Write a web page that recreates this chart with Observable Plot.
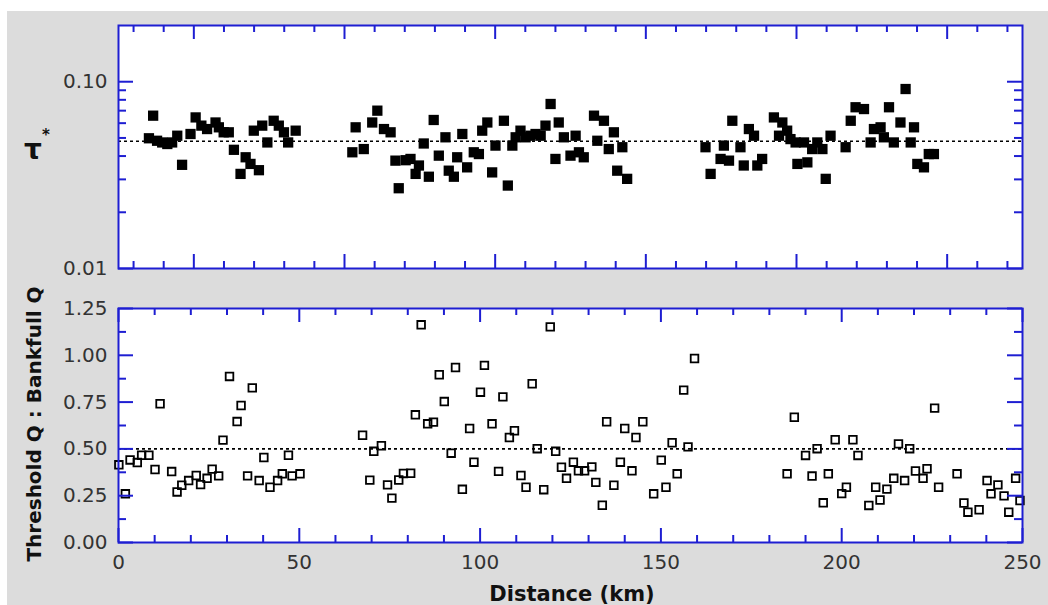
<!DOCTYPE html>
<html><head><meta charset="utf-8">
<script src="https://cdn.jsdelivr.net/npm/d3@7"></script>
<script src="https://cdn.jsdelivr.net/npm/@observablehq/plot@0.6"></script>
<style>
html,body{margin:0;padding:0;background:#fff;overflow:hidden;}
#wrap{position:relative;width:1048px;height:605px;}
#bg{position:absolute;left:7px;top:11px;right:0;bottom:0;background:#dcdcdc;}
#top,#bot{position:absolute;left:0;}
#top{top:0}
#bot{top:285px}
</style></head><body>
<div id="wrap"><div id="bg"></div><div id="top"></div><div id="bot"></div></div>
<script>
// ---------- data ----------
const tauDistance = [
 -14.9,-13.5,-12.2,-10.5,-8.8,-7.2,-5.5,-3.9,-1.1,0.6,2.5,4.4,7.2,8.3,9.9,11.6,13.3,15.5,17.2,18.8,21.6,19.9,22.7,24.4,26.5,28.2,29.9,31.3,33.8,
 52.6,53.7,56.4,59.2,60.9,63.1,65.3,66.9,68.0,70.3,71.9,73.6,74.7,76.3,78.0,79.6,81.3,83.5,84.6,86.3,87.4,89.1,90.7,92.9,94.6,95.7,97.4,99.0,100.1,102.9,104.2,105.7,106.8,108.4,110.1,111.7,113.4,115.1,116.7,118.4,120.0,121.1,122.8,125.0,126.7,127.8,129.4,132.8,133.9,136.1,137.7,139.4,140.5,142.2,143.8,
 169.8,171.5,174.8,175.9,177.6,178.7,181.4,182.5,184.2,185.9,187.0,188.6,192.5,194.2,195.3,196.9,198.0,199.7,200.3,202.5,203.6,205.2,206.9,208.6,209.7,211.3,216.3,218.0,219.6,222.4,224.6,225.7,227.9,229.0,230.7,232.3,234.5,236.2,237.9,239.0,240.1,242.3,243.9,245.6
];
const tauValue = [
 0.0498,0.0658,0.0483,0.0473,0.0464,0.0473,0.0514,0.0359,0.0525,0.0644,0.0582,0.0558,0.0605,0.057,0.0536,0.0536,0.0432,0.0321,0.0394,0.0363,0.0336,0.0547,0.0582,0.0473,0.0618,0.0582,0.0536,0.0473,0.0547,
 0.0419,0.057,0.0436,0.0605,0.070,0.0558,0.0536,0.0378,0.0269,0.038,0.0386,0.0321,0.0356,0.0467,0.031,0.0624,0.0402,0.0504,0.0334,0.031,0.0394,0.0525,0.0348,0.0419,0.041,0.0547,0.0605,0.0327,0.0455,0.0618,0.0278,0.0455,0.0504,0.0547,0.0504,0.0514,0.0525,0.0514,0.0582,0.076,0.0386,0.0605,0.0504,0.0402,0.0514,0.0419,0.0394,0.0658,0.0483,0.0618,0.0436,0.0536,0.0334,0.0446,0.0302,
 0.0446,0.0321,0.0386,0.0455,0.0378,0.0618,0.0446,0.0356,0.0558,0.0514,0.0356,0.0386,0.0644,0.0514,0.0605,0.0547,0.0493,0.0473,0.0363,0.0473,0.037,0.0436,0.0473,0.0436,0.0302,0.0514,0.0446,0.0618,0.073,0.0714,0.0473,0.0558,0.057,0.0504,0.073,0.0473,0.0605,0.0914,0.0473,0.057,0.0363,0.0348,0.041,0.041
];
const ratioDistance = [
 0.1,1.9,3.2,5.2,6.4,8.4,10.1,11.5,14.7,16.2,17.5,19.4,21.5,22.7,24.5,25.9,27.7,28.9,30.7,32.8,33.9,37.0,35.7,38.9,40.2,41.9,44.0,45.3,47.0,48.0,50.2,
 67.5,69.5,70.6,72.7,74.4,75.6,77.5,78.8,80.8,82.1,83.7,85.5,87.1,88.7,90.1,92.0,93.2,95.1,97.1,98.3,100.1,101.2,103.3,105.1,106.3,108.1,109.5,111.3,112.7,114.4,115.8,117.6,119.4,120.9,122.5,123.9,125.8,127.2,128.9,130.9,132.0,133.8,135.0,137.0,138.8,140.0,142.0,143.1,145.0,148.0,150.1,151.4,153.1,154.5,156.3,157.5,159.3,
 184.9,186.9,190.0,191.8,193.2,194.9,196.3,198.2,200.0,201.3,203.1,204.5,207.5,209.4,210.6,212.5,214.4,215.7,217.4,218.8,220.4,222.5,223.6,225.7,226.8,231.9,233.8,234.9,238.0,240.2,241.3,243.2,244.9,246.2,248.1,249.3
];
const ratioValue = [
 0.415,0.260,0.441,0.427,0.466,0.466,0.390,0.741,0.379,0.270,0.306,0.331,0.358,0.309,0.343,0.392,0.356,0.547,0.887,0.646,0.732,0.826,0.356,0.331,0.454,0.295,0.331,0.367,0.466,0.356,0.367,
 0.573,0.333,0.487,0.517,0.308,0.237,0.334,0.369,0.370,0.682,1.163,0.634,0.643,0.896,0.753,0.477,0.935,0.284,0.609,0.429,0.803,0.946,0.634,0.380,0.778,0.561,0.597,0.358,0.295,0.848,0.501,0.282,1.152,0.487,0.402,0.343,0.429,0.383,0.383,0.404,0.321,0.199,0.645,0.306,0.429,0.609,0.383,0.561,0.645,0.260,0.440,0.295,0.533,0.367,0.814,0.511,0.983,
 0.367,0.669,0.465,0.355,0.501,0.212,0.367,0.549,0.261,0.295,0.549,0.465,0.198,0.295,0.227,0.285,0.343,0.527,0.331,0.501,0.382,0.343,0.394,0.718,0.295,0.367,0.211,0.162,0.175,0.331,0.260,0.308,0.249,0.162,0.343,0.224
];
const tauReference = 0.048;
const ratioReference = 0.5;

const topXMajorTicks = [0,50,100,150,200,250];
const topXMinorTicks = [-20,-10,10,20,30,40,60,70,80,90,110,120,130,140,160,170,180,190,210,220,230,240,260,270];
const tauMajorTicks = [0.01,0.1];
const tauMinorTicks = [0.02,0.03,0.04,0.05,0.06,0.07,0.08,0.09];
const botXMajorTicks = [0,50,100,150,200,250];
const botXMinorTicks = [10,20,30,40,60,70,80,90,110,120,130,140,160,170,180,190,210,220,230,240];
const ratioMajorTicks = [0,0.25,0.5,0.75,1.0,1.25];
const ratioMinorTicks = [0.125,0.375,0.625,0.875,1.125];

const yTitleTop = "τ";
const yTitleBottom = "Threshold Q : Bankfull Q";
const xTitle = "Distance (km)";

// ---------- drawing ----------
const BLUE = "#1e1ed2";
const LABEL = "#333";
const FONT = "'DejaVu Sans', sans-serif";
const W = 1048 - 118 - 26;
const H1 = 285 - 25 - 17;
const H2 = 320 - 23 - 63;

const tauData = tauDistance.map((d, i) => ({distance: d, tau: tauValue[i]}));
const ratioData = ratioDistance.map((d, i) => ({distance: d, ratio: ratioValue[i]}));

function xTicks(ticks, len, H) {
  return [
    Plot.tickX(ticks, {x: d => d, stroke: BLUE, strokeWidth: 2, insetTop: H - len}),
    Plot.tickX(ticks, {x: d => d, stroke: BLUE, strokeWidth: 2, insetBottom: H - len})
  ];
}
function yTicks(ticks, len) {
  return [
    Plot.tickY(ticks, {y: d => d, stroke: BLUE, strokeWidth: 2, insetRight: W - len}),
    Plot.tickY(ticks, {y: d => d, stroke: BLUE, strokeWidth: 2, insetLeft: W - len})
  ];
}

const topPlot = Plot.plot({
  width: 1048, height: 285, marginTop: 25, marginBottom: 17, marginLeft: 118, marginRight: 26,
  style: {background: "transparent", fontFamily: FONT, fontSize: "20px", color: LABEL, overflow: "visible"},
  x: {domain: [-25, 275], axis: null},
  y: {type: "log", domain: [0.01, 0.2]},
  marks: [
    Plot.frame({fill: "white", stroke: null}),
    Plot.ruleY([tauReference], {stroke: "#000", strokeWidth: 1.6, strokeDasharray: "3,3"}),
    Plot.dot(tauData, {x: "distance", y: "tau", symbol: "square", r: 5.8, fill: "#000", stroke: null}),
    ...xTicks(topXMinorTicks, 7, H1),
    ...xTicks(topXMajorTicks, 14, H1),
    ...yTicks(tauMinorTicks, 8),
    ...yTicks(tauMajorTicks, 15),
    Plot.axisY({ticks: tauMajorTicks, tickSize: 0, tickPadding: 11, tickFormat: d3.format(".2f"), label: null}),
    Plot.frame({stroke: BLUE, strokeWidth: 2})
  ]
});
document.getElementById("top").appendChild(topPlot);

const botPlot = Plot.plot({
  width: 1048, height: 320, marginTop: 23, marginBottom: 63, marginLeft: 118, marginRight: 26,
  style: {background: "transparent", fontFamily: FONT, fontSize: "20px", color: LABEL, overflow: "visible"},
  x: {domain: [0, 250]},
  y: {domain: [0, 1.25]},
  marks: [
    Plot.frame({fill: "white", stroke: null}),
    Plot.ruleY([ratioReference], {stroke: "#000", strokeWidth: 1.6, strokeDasharray: "3,3"}),
    Plot.dot(ratioData, {x: "distance", y: "ratio", symbol: "square", r: 4.3, fill: "none", stroke: "#000", strokeWidth: 1.8}),
    ...xTicks(botXMinorTicks, 7, H2),
    ...xTicks(botXMajorTicks, 14, H2),
    ...yTicks(ratioMinorTicks, 8),
    ...yTicks(ratioMajorTicks, 15),
    Plot.axisY({ticks: ratioMajorTicks, tickSize: 0, tickPadding: 11, tickFormat: d3.format(".2f"), label: null}),
    Plot.axisX({ticks: botXMajorTicks, tickSize: 0, tickPadding: 12, tickFormat: d => String(d), label: null}),
    Plot.frame({stroke: BLUE, strokeWidth: 2})
  ]
});
document.getElementById("bot").appendChild(botPlot);

// titles
const svg = d3.select("#wrap").append("svg")
  .attr("width", 1048).attr("height", 605)
  .style("position", "absolute").style("left", "0px").style("top", "0px")
  .style("pointer-events", "none");
svg.append("text").attr("x", 33).attr("y", 159).attr("text-anchor", "middle")
  .attr("font-family", FONT).attr("font-weight", "bold").attr("font-size", 28).attr("fill", "#111")
  .text(yTitleTop);
svg.append("text").attr("x", 46).attr("y", 140).attr("text-anchor", "middle")
  .attr("font-family", FONT).attr("font-weight", "bold").attr("font-size", 15).attr("fill", "#111")
  .text("*");
svg.append("text").attr("transform", "translate(41,424) rotate(-90)").attr("text-anchor", "middle")
  .attr("font-family", FONT).attr("font-weight", "bold").attr("font-size", 20).attr("fill", "#111")
  .text(yTitleBottom);
svg.append("text").attr("x", 572).attr("y", 601).attr("text-anchor", "middle")
  .attr("font-family", FONT).attr("font-weight", "bold").attr("font-size", 21).attr("fill", "#111")
  .text(xTitle);
</script>
</body></html>
